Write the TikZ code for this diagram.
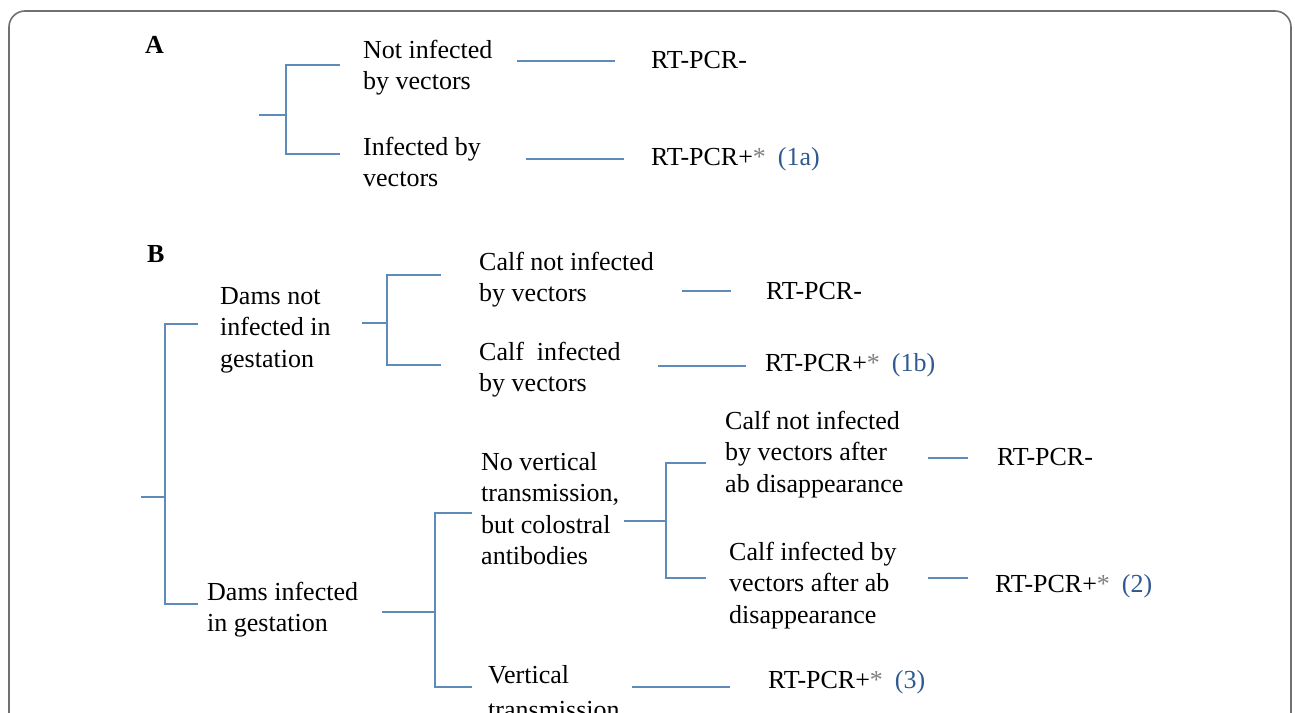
\documentclass[tikz,border=0pt]{standalone}
\usepackage{fontspec}
\setmainfont{Liberation Serif}
\definecolor{linec}{HTML}{5F8BBA}
\definecolor{numc}{HTML}{2F5A92}
\definecolor{astc}{HTML}{808080}
\definecolor{framec}{HTML}{707070}
\newcommand{\rtpos}[1]{RT-PCR+\textcolor{astc}{*}\hspace{12pt}\textcolor{numc}{#1}}
\tikzset{
  txt/.style={anchor=west, align=left, inner sep=0pt, font=\fontsize{26}{31.5}\selectfont},
  lbl/.style={anchor=base west, inner sep=0pt, font=\fontsize{26}{31.5}\selectfont},
  br/.style={draw=linec, line width=1.4pt},
  frm/.style={draw=framec, line width=1.6pt, rounded corners=16pt}
}
\begin{document}
\begin{tikzpicture}[x=1pt, y=-1pt]
\useasboundingbox (0,0) rectangle (1295,712);
\clip (0,0) rectangle (1295,712);
\fill[white] (0,0) rectangle (1295,712);
\coordinate (fbl) at (9,760);
\coordinate (ftl) at (9,11);
\coordinate (ftr) at (1291,11);
\coordinate (fbr) at (1291,760);
\draw[frm] (fbl) -- (ftl) -- (ftr) -- (fbr);

% ---------- A ----------
\node[lbl] (A) at (145,53) {\textbf{A}};
\node[txt] (a1) at (363,67.5) {\strut Not infected\\by vectors\strut};
\node[txt] (a2) at (363,164.5) {\strut Infected by\\vectors\strut};
\node[lbl] (r1) at (651,68) {RT-PCR-};
\node[lbl] (r2) at (651,165) {\rtpos{(1a)}};

\coordinate (aS) at (259,115);
\coordinate (aJ) at (286,115);
\coordinate (aT) at (340,65);
\coordinate (aB) at (340,154);
\coordinate (aBv) at (286,154);
\draw[br] (aS) -- (aJ);
\draw[br] (aT) -| (aBv) -- (aB);
\coordinate (l1s) at (517,61);  \coordinate (l1e) at (615,61);
\coordinate (l2s) at (526,159); \coordinate (l2e) at (624,159);
\draw[br] (l1s) -- (l1e);
\draw[br] (l2s) -- (l2e);

% ---------- B ----------
\node[lbl] (B) at (147,262) {\textbf{B}};
\node[txt] (dn) at (220,329.2) {\strut Dams not\\infected in\\gestation\strut};
\node[txt] (c1) at (479,279.5) {\strut Calf not infected\\by vectors\strut};
\node[txt] (c2) at (479,369.5) {\strut Calf\ \ infected\\by vectors\strut};
\node[lbl] (r3) at (766,299) {RT-PCR-};
\node[lbl] (r4) at (765,371) {\rtpos{(1b)}};
\node[txt] (di) at (207,609.5) {\strut Dams infected\\in gestation\strut};
\node[txt] (nv) at (481,511) {\strut No vertical\\transmission,\\but colostral\\antibodies\strut};
\node[txt] (c3) at (725,454.2) {\strut Calf not infected\\by vectors after\\ab disappearance\strut};
\node[txt] (c4) at (729,585.2) {\strut Calf infected by\\vectors after ab\\disappearance\strut};
\node[lbl] (r5) at (997,465) {RT-PCR-};
\node[lbl] (r6) at (995,592) {\rtpos{(2)}};
\node[txt] (vt) at (488,694.5) {\strut Vertical\\[4pt]transmission\strut};
\node[lbl] (r7) at (768,688) {\rtpos{(3)}};

% main bracket
\coordinate (mS) at (141,497); \coordinate (mJ) at (165,497);
\coordinate (mT) at (198,324); \coordinate (mBv) at (165,604); \coordinate (mB) at (198,604);
\draw[br] (mS) -- (mJ);
\draw[br] (mT) -| (mBv) -- (mB);
% dams not infected bracket
\coordinate (dS) at (362,323); \coordinate (dJ) at (387,323);
\coordinate (dT) at (441,275); \coordinate (dBv) at (387,365); \coordinate (dB) at (441,365);
\draw[br] (dS) -- (dJ);
\draw[br] (dT) -| (dBv) -- (dB);
\coordinate (l3s) at (682,291); \coordinate (l3e) at (731,291);
\coordinate (l4s) at (658,366); \coordinate (l4e) at (746,366);
\draw[br] (l3s) -- (l3e);
\draw[br] (l4s) -- (l4e);
% dams infected bracket
\coordinate (eS) at (382,612); \coordinate (eJ) at (435,612);
\coordinate (eT) at (472,513); \coordinate (eBv) at (435,687); \coordinate (eB) at (472,687);
\draw[br] (eS) -- (eJ);
\draw[br] (eT) -| (eBv) -- (eB);
% no vertical transmission bracket
\coordinate (nS) at (624,521); \coordinate (nJ) at (666,521);
\coordinate (nT) at (706,463); \coordinate (nBv) at (666,578); \coordinate (nB) at (706,578);
\draw[br] (nS) -- (nJ);
\draw[br] (nT) -| (nBv) -- (nB);
\coordinate (l5s) at (928,458); \coordinate (l5e) at (968,458);
\coordinate (l6s) at (928,578); \coordinate (l6e) at (968,578);
\coordinate (l7s) at (632,687); \coordinate (l7e) at (730,687);
\draw[br] (l5s) -- (l5e);
\draw[br] (l6s) -- (l6e);
\draw[br] (l7s) -- (l7e);
\end{tikzpicture}
\end{document}
